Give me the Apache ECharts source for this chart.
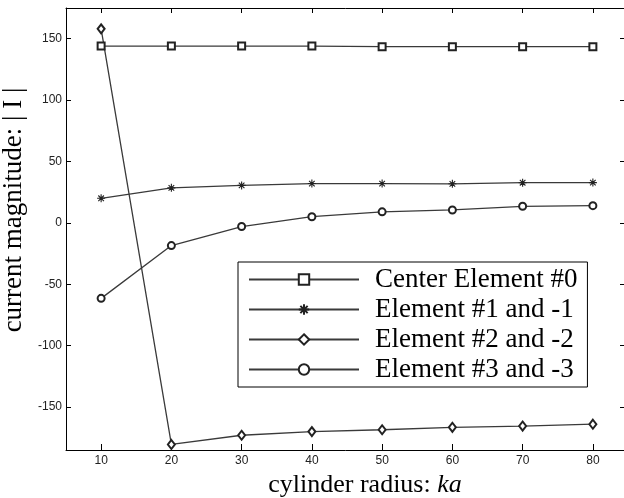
<!DOCTYPE html>
<html>
<head>
<meta charset="utf-8">
<script src="https://cdn.jsdelivr.net/npm/echarts@6/dist/echarts.min.js"></script>
<style>html,body{margin:0;padding:0;background:#fff;overflow:hidden;}#c{width:624px;height:498px;}</style>
</head>
<body>
<div id="c"></div>
<script>
// ---- data ----
const radii = [10, 20, 30, 40, 50, 60, 70, 80];
const seriesNames = ['Center Element #0', 'Element #1 and -1', 'Element #2 and -2', 'Element #3 and -3'];
const center0 = [144, 144, 144, 144, 143.5, 143.5, 143.5, 143.5];
const elem1 = [20, 28.5, 30.5, 32, 32, 31.8, 32.7, 32.8];
const elem2 = [158, -180.5, -173, -170, -168.5, -166.5, -165.5, -164];
const elem3 = [-61.5, -18.5, -3, 5, 9, 10.5, 13.5, 14];
const xTicks = [10, 20, 30, 40, 50, 60, 70, 80];
const yTicks = [-150, -100, -50, 0, 50, 100, 150];

const pair = v => radii.map((r, i) => [r, v[i]]);
const serif = 'Liberation Serif, Times New Roman, serif';
const asterisk = 'path://M5,0L5,10M0,5L10,5M1.5,1.5L8.5,8.5M1.5,8.5L8.5,1.5';

const lineCol = '#3a3a3a';
function mk(name, vals, symbol, size) {
  return {
    name: name, type: 'line', data: pair(vals), xAxisIndex: 0, yAxisIndex: 0,
    symbol: symbol, symbolSize: size, showSymbol: true,
    lineStyle: { color: lineCol, width: 1.3 },
    itemStyle: { color: '#222', borderColor: '#222', borderWidth: 1.1 },
    emphasis: { disabled: true }, animation: false
  };
}

const chart = echarts.init(document.getElementById('c'), null, { renderer: 'canvas' });
const labelStyle = { color: '#222', fontFamily: 'Liberation Sans, Arial, sans-serif', fontSize: 12 };
chart.setOption({
  backgroundColor: '#fff',
  animation: false,
  grid: { left: 66, top: 8, width: 562, height: 442, outerBoundsMode: 'none', containLabel: false, show: false },
  legend: {
    orient: 'vertical', left: 238, top: 262,
    data: seriesNames,
    itemWidth: 110, itemHeight: 13, itemGap: 1,
    padding: [3, 10, 3, 10],
    borderColor: '#000', borderWidth: 1, backgroundColor: '#fff',
    textStyle: { fontFamily: serif, fontSize: 27, color: '#000', lineHeight: 29, padding: [0, 0, 0, 11] },
    selectedMode: false
  },
  xAxis: [
    {
      type: 'value', min: 5, max: 85, position: 'bottom',
      axisLine: { show: true, onZero: false, lineStyle: { color: '#000', width: 1 } },
      axisTick: { show: true, inside: true, length: 6, customValues: xTicks, lineStyle: { color: '#000' } },
      axisLabel: { show: true, customValues: xTicks, margin: 5, ...labelStyle },
      splitLine: { show: false },
      name: '{a|cylinder radius: }{b|ka}', nameLocation: 'middle', nameGap: 19,
      nameTextStyle: {
        padding: [0, 0, 0, 36],
        rich: {
          a: { fontFamily: serif, fontSize: 26, color: '#000' },
          b: { fontFamily: serif, fontSize: 26, color: '#000', fontStyle: 'italic' }
        }
      }
    },
    {
      type: 'value', min: 5, max: 85, position: 'top',
      axisLine: { show: true, onZero: false, lineStyle: { color: '#000', width: 1 } },
      axisTick: { show: true, inside: true, length: 5, customValues: xTicks, lineStyle: { color: '#000' } },
      axisLabel: { show: false, customValues: xTicks },
      splitLine: { show: false }
    }
  ],
  yAxis: [
    {
      type: 'value', min: -185, max: 175, position: 'left',
      axisLine: { show: true, onZero: false, lineStyle: { color: '#000', width: 1 } },
      axisTick: { show: true, inside: true, length: 5, customValues: yTicks, lineStyle: { color: '#000' } },
      axisLabel: { show: true, customValues: yTicks, margin: 4, ...labelStyle },
      splitLine: { show: false },
      name: 'current magnitude: | I |', nameLocation: 'middle', nameGap: 32,
      nameTextStyle: { fontFamily: serif, fontSize: 27, color: '#000', padding: [0, 0, 0, 38] }
    },
    {
      type: 'value', min: -185, max: 175, position: 'right',
      axisLine: { show: false },
      axisTick: { show: true, inside: true, length: 8, customValues: yTicks, lineStyle: { color: '#000' } },
      axisLabel: { show: false, customValues: yTicks },
      splitLine: { show: false }
    }
  ],
  series: [
    mk(seriesNames[0], center0, 'emptyRect', 7),
    mk(seriesNames[1], elem1, asterisk, 8),
    mk(seriesNames[2], elem2, 'emptyDiamond', [7, 9]),
    mk(seriesNames[3], elem3, 'emptyCircle', 7)
  ]
});
</script>
</body>
</html>
